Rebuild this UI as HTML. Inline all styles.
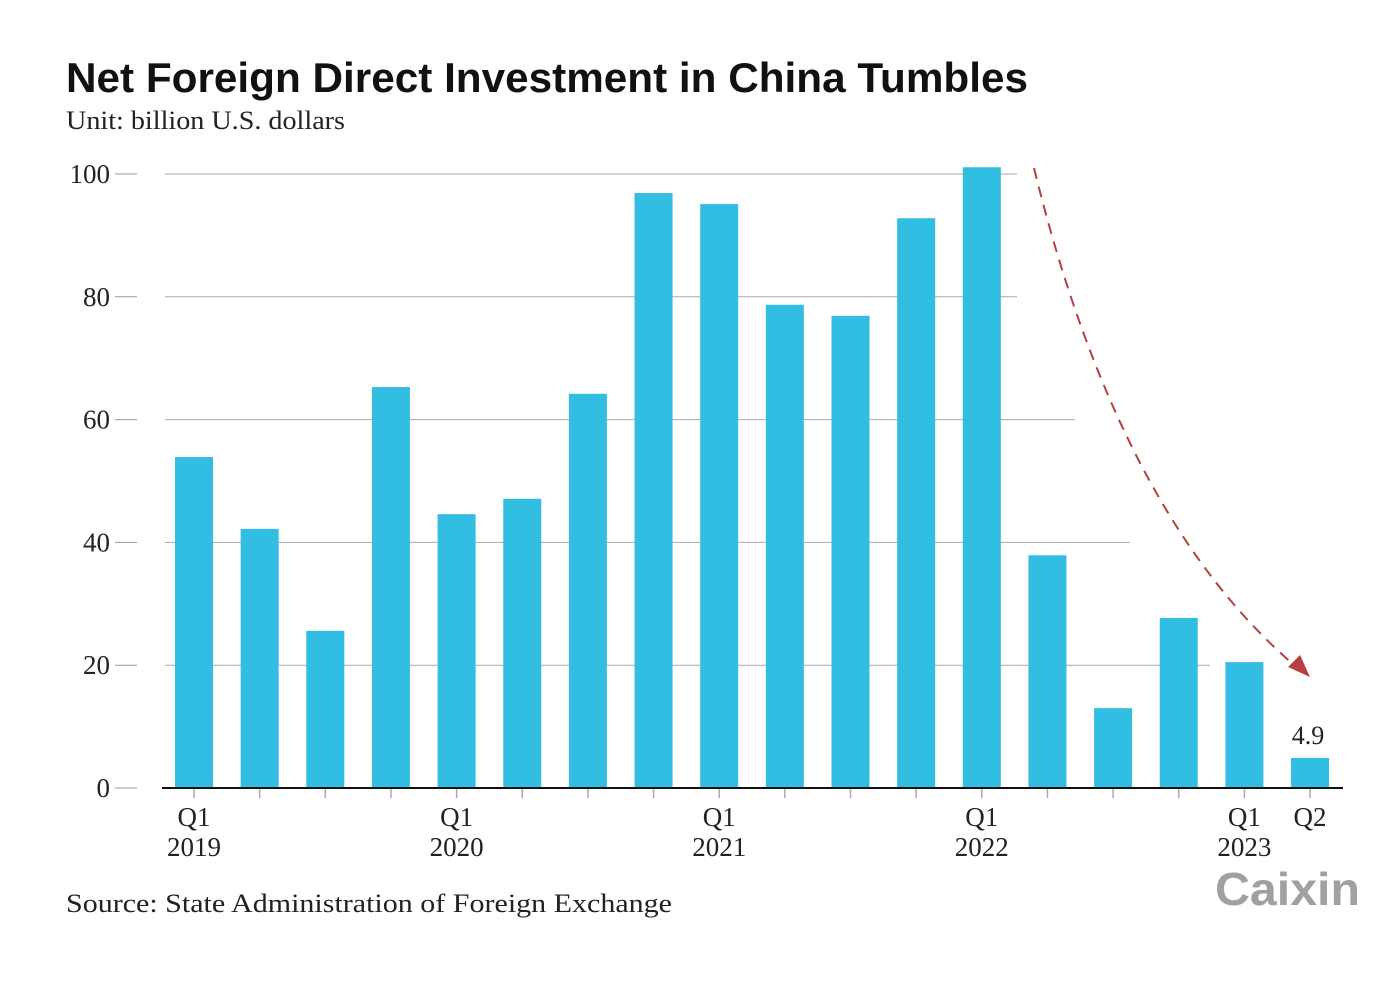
<!DOCTYPE html>
<html><head><meta charset="utf-8"><style>
body{margin:0;background:#fff;width:1396px;height:998px;overflow:hidden}
svg{display:block}
.serif{font-family:"Liberation Serif",serif}
</style></head><body>
<svg id="chart" width="1396" height="998">
<text x="66" y="92" font-family="Liberation Sans,sans-serif" font-weight="bold" font-size="42" fill="#111" textLength="962" lengthAdjust="spacingAndGlyphs">Net Foreign Direct Investment in China Tumbles</text>
<text x="66" y="129" class="serif" font-size="26" fill="#222" textLength="279" lengthAdjust="spacingAndGlyphs">Unit: billion U.S. dollars</text>
<g id="grid"></g><g id="bars"></g><g id="xaxis"></g>
<path d="M1034,168 Q1120,520 1300,670" fill="none" stroke="#b5403f" stroke-width="2" stroke-dasharray="11,8"/>
<polygon points="1310,677 1288,667 1300,655" fill="#b5403f"/>
<text x="1308" y="744" class="serif" font-size="26" fill="#222" text-anchor="middle">4.9</text>
<text x="66" y="912" class="serif" font-size="26" fill="#222" textLength="606" lengthAdjust="spacingAndGlyphs">Source: State Administration of Foreign Exchange</text>
<text x="1215" y="905" font-family="Liberation Sans,sans-serif" font-weight="bold" font-size="46" fill="#a0a0a0" textLength="145" lengthAdjust="spacingAndGlyphs">Caixin</text>
</svg>
<script>
const values=[53.9,42.2,25.6,65.3,44.6,47.1,64.2,96.9,95.1,78.7,76.9,92.8,101.1,37.9,13.0,27.7,20.5,4.9];
const yTicks=[0,20,40,60,80,100];
const gridEnds=[1340,1210,1130,1075,1017,1017];
const xLabels=[["Q1","2019"],null,null,null,["Q1","2020"],null,null,null,["Q1","2021"],null,null,null,["Q1","2022"],null,null,null,["Q1","2023"],["Q2",""]];
const NS="http://www.w3.org/2000/svg";
const y=v=>788-v*6.14, x=i=>194+i*65.65;
function mk(t,a,p){const e=document.createElementNS(NS,t);for(const k in a)e.setAttribute(k,a[k]);p.appendChild(e);return e;}
const g=document.getElementById('grid'),b=document.getElementById('bars'),xa=document.getElementById('xaxis');
yTicks.forEach((v,i)=>{
 if(v>0){const l=mk('line',{x1:165,x2:gridEnds[i],y1:y(v),y2:y(v),stroke:'#aaa','stroke-width':1},g);
 
 }
 const d=mk('line',{x1:115,x2:137,y1:y(v),y2:y(v),stroke:'#999','stroke-width':1},g);
 
 
 const t=mk('text',{x:110,y:y(v)+9,'text-anchor':'end','font-size':27,fill:'#222','class':'serif'},g);t.textContent=v;
 
 
});
values.forEach((v,i)=>{
 const r=mk('rect',{x:x(i)-19,y:y(v),width:38,height:v*6.14,fill:'#32bde2'},b);
 
 
 const tk=mk('line',{x1:x(i),x2:x(i),y1:788,y2:798,stroke:'#aaa','stroke-width':1.5},xa);
 
 
 if(xLabels[i]){xLabels[i].forEach((s,j)=>{if(!s)return;const t=mk('text',{x:x(i),y:826+j*30,'text-anchor':'middle','font-size':27,fill:'#222','class':'serif'},xa);t.textContent=s;
 
 });}
});
const ax=mk('line',{x1:162,x2:1343,y1:788,y2:788,stroke:'#111','stroke-width':2},xa);


</script>
</body></html>
